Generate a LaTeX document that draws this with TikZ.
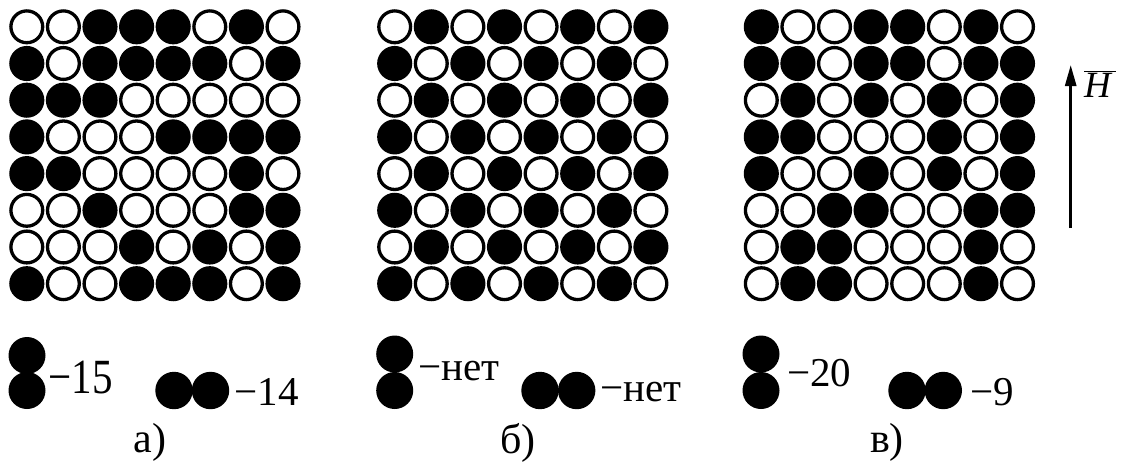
\documentclass[tikz,border=0pt]{standalone}
\usepackage{fontspec}
\setmainfont{Liberation Serif}
\usetikzlibrary{arrows.meta}
\colorlet{c0}{white}
\colorlet{c1}{black}
\tikzset{
  cell/.style={draw=black, line width=3.3pt},
  dot/.style={fill=black},
  lbl/.style={anchor=base west, inner sep=0pt, font=\fontsize{41}{46}\selectfont},
  captxt/.style={anchor=base, inner sep=0pt, font=\fontsize{42}{48}\selectfont},
}
\newcommand\drawgrid[2]{%
  \foreach \row [count=\j from 0] in {#2} {
    \foreach \v [count=\i from 0] in \row {
      \draw[cell, fill=c\v] ({#1+36.6*\i},{26.8+36.7*\j}) circle[radius=15.9pt];
    }
  }
}
\begin{document}
\begin{tikzpicture}[x=1pt,y=-1pt]
\useasboundingbox (0,0) rectangle (1122,461);
% grid a
\drawgrid{26.8}{{0,0,1,1,1,0,1,0},{1,0,1,1,1,1,0,1},{1,1,1,0,0,0,0,0},{1,0,0,0,1,1,1,1},{1,1,0,0,0,0,1,0},{0,0,1,0,0,0,1,1},{0,0,0,1,0,1,0,1},{1,0,0,1,1,1,0,1}}
% grid b
\drawgrid{394.7}{{0,1,0,1,0,1,0,1},{1,0,1,0,1,0,1,0},{0,1,0,1,0,1,0,1},{1,0,1,0,1,0,1,0},{0,1,0,1,0,1,0,1},{1,0,1,0,1,0,1,0},{0,1,0,1,0,1,0,1},{1,0,1,0,1,0,1,0}}
% grid c
\drawgrid{761.3}{{1,0,0,1,1,0,1,0},{1,1,0,1,1,0,1,1},{0,1,0,1,0,1,0,1},{1,1,0,0,0,1,0,1},{1,0,0,1,0,1,0,1},{0,0,1,1,0,0,1,1},{0,1,1,0,0,0,1,0},{0,1,1,0,0,0,1,0}}

% legend a
\fill[dot] (27,355.5) circle[radius=18.5pt];
\fill[dot] (27,390.5) circle[radius=18.5pt];
\node[lbl] (la1) at (48.5,393.5) {\scalebox{1}[1.2]{−15}};
\fill[dot] (174,390.5) circle[radius=18.7pt];
\fill[dot] (210.5,390.5) circle[radius=18.7pt];
\node[lbl] (la2) at (234.5,405) {−14};
\node[captxt] (ca) at (150,452.5) {а)};

% legend b
\fill[dot] (394.7,354) circle[radius=18.5pt];
\fill[dot] (394.7,390.5) circle[radius=18.5pt];
\node[lbl] (lb1) at (418.5,380) {−нет};
\fill[dot] (540,390.5) circle[radius=18.7pt];
\fill[dot] (576.7,390.5) circle[radius=18.7pt];
\node[lbl] (lb2) at (600.2,401.7) {−нет};
\node[captxt] (cb) at (518,453) {б)};

% legend c
\fill[dot] (761,354) circle[radius=18.5pt];
\fill[dot] (761,390.5) circle[radius=18.5pt];
\node[lbl] (lc1) at (786.8,386) {−20};
\fill[dot] (907,390.5) circle[radius=18.7pt];
\fill[dot] (943.3,390.5) circle[radius=18.7pt];
\node[lbl] (lc2) at (970.2,405) {−9};
\node[captxt] (cc) at (887,452) {в)};

% field arrow
\coordinate (hb) at (1070.7,228);
\coordinate (ht) at (1070.7,65);
\draw[line width=2.8pt, -{Triangle[length=21pt,width=11pt]}] (hb) -- (ht);
\node[anchor=base west, inner sep=0pt, font=\fontsize{37}{42}\selectfont] (hl) at (1084,97) {$\overline{\mbox{\textit{H}\kern3pt}}$};
\end{tikzpicture}
\end{document}
